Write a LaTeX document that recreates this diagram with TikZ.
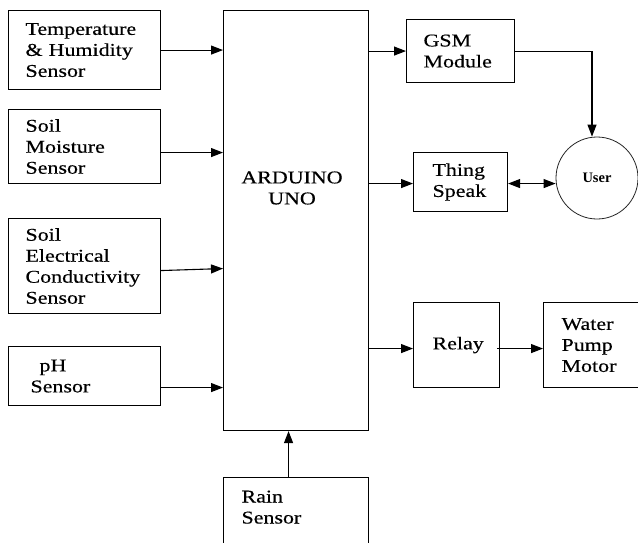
\documentclass[tikz,border=0pt]{standalone}
\usepackage{fontspec}
\setmainfont{Liberation Serif}[FakeStretch=1.22,FakeBold=0.4]
\newfontfamily\userfont{Liberation Serif}
\usetikzlibrary{arrows.meta}
\begin{document}
\begin{tikzpicture}[x=1pt,y=-1pt,
  box/.style={draw, line width=1.1pt, anchor=north west, align=left, inner ysep=0pt,
    font=\fontsize{18}{21}\selectfont},
  arr/.style={line width=1.1pt, -{Triangle[length=12pt,width=9pt]}},
  darr/.style={line width=1.1pt, {Triangle[length=12pt,width=9pt]}-{Triangle[length=12pt,width=9pt]}},
  lbl/.style={align=center, inner sep=0pt, font=\fontsize{18}{21}\selectfont}]
\clip (0,0) rectangle (638,542);
\fill[white] (0,0) rectangle (638,542);

% sensor boxes
\node[box, inner xsep=17pt, text width=118pt, minimum height=79pt] (th) at (8,10)
  {Temperature\\\& Humidity\\Sensor};
\node[box, inner xsep=17pt, text width=118pt, minimum height=74pt] (sm) at (8,109)
  {Soil\\Moisture\\Sensor};
\node[box, inner xsep=17pt, text width=118pt, minimum height=95pt] (ec) at (8,218)
  {Soil\\Electrical\\Conductivity\\Sensor};
\node[box, inner xsep=22pt, text width=108pt, minimum height=59pt] (ph) at (8,346)
  {\hspace*{9pt}pH\\Sensor};

% Arduino
\node[box, minimum width=145pt, minimum height=420pt] (ard) at (223,10) {};
\node[lbl] (ardtxt) at (292,188) {ARDUINO\\UNO};

% Rain sensor
\node[box, inner xsep=18pt, text width=109pt, minimum height=80pt] (rain) at (223,477)
  {Rain\\Sensor\\~};

% outputs
\node[box, inner xsep=17pt, text width=74pt, minimum height=63pt] (gsm) at (406,19)
  {GSM\\Module};
\node[box, inner xsep=19pt, text width=56pt, minimum height=59pt] (ts) at (413,152)
  {Thing\\Speak};
\node[box, inner xsep=19pt, text width=48pt, minimum height=85pt] (relay) at (413,302)
  {Relay\\[6pt]};
\node[box, inner xsep=18pt, text width=64pt, minimum height=85pt] (water) at (543,302)
  {Water\\Pump\\Motor};

\node[draw, circle, line width=0.8pt, draw=black!85, minimum size=82pt, inner sep=0pt,
  font=\userfont\bfseries\fontsize{14.5}{16}\selectfont] (user) at (597,178) {User};

% connectors
\draw[arr] (th.east) -- (th.east -| ard.west);
\draw[arr] ([yshift=-6pt]sm.east) -- ([yshift=-6pt]sm.east -| ard.west);
\draw[arr] ([yshift=-4.5pt]ec.east) -- ([yshift=-2.5pt]ec.east -| ard.west);
\draw[arr] ([yshift=-11.5pt]ph.east) -- ([yshift=-11.5pt]ph.east -| ard.west);
\draw[arr] ([xshift=-7.5pt]rain.north) -- ([xshift=-7.5pt]ard.south);

\draw[arr] (gsm.west -| ard.east) -- (gsm.west);
\draw[arr] ([yshift=-1.5pt]ts.west -| ard.east) -- ([yshift=-1.5pt]ts.west);
\draw[arr] ([yshift=-3.5pt]relay.west -| ard.east) -- ([yshift=-3.5pt]relay.west);
\draw[arr] ([yshift=-3.5pt,xshift=-3pt]relay.east) -- ([yshift=-3.5pt]relay.east -| water.west);

\coordinate (gsmturn) at ([xshift=-5pt]user.north |- gsm.east);
\draw[arr] (gsm.east) -- (gsmturn) -- ([xshift=-5pt]user.north);
\draw[darr] ([yshift=-1.5pt]ts.east) -- ([yshift=-1.5pt]ts.east -| user.west);
\end{tikzpicture}
\end{document}
